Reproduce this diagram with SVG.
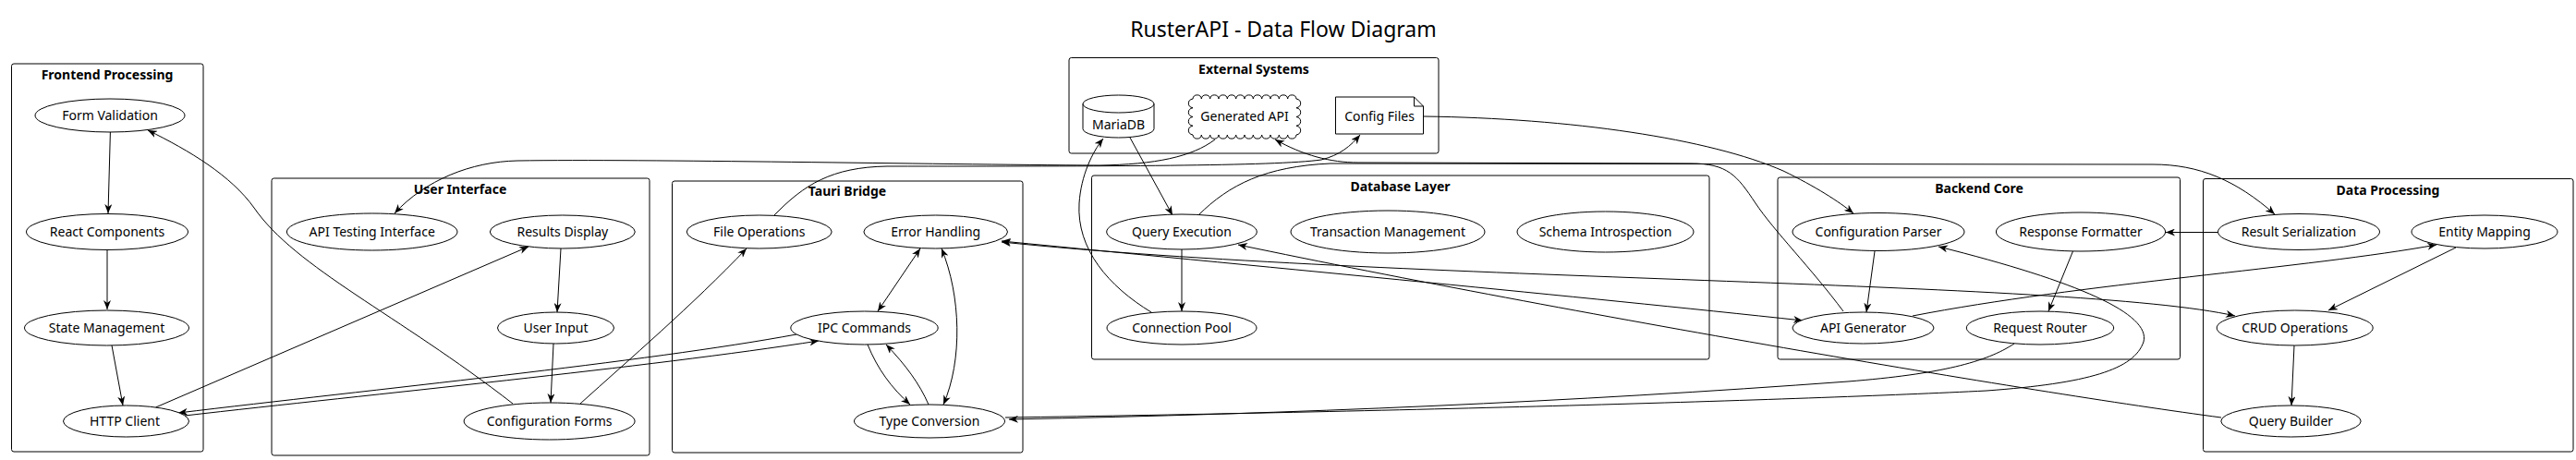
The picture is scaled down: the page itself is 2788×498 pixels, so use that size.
<svg xmlns="http://www.w3.org/2000/svg" width="2788" height="498" viewBox="0 0 2788 498">
<style>
text{font-family:"Noto Sans","DejaVu Sans",sans-serif;fill:#000}
.t{font-size:23px}
.ct{font-size:14px;font-weight:bold;text-anchor:middle}
.nt{font-size:14px;text-anchor:middle}
.cl{fill:none;stroke:#000;stroke-width:1}
.n{fill:#fff;stroke:#000;stroke-width:1}
.e{fill:none;stroke:#000;stroke-width:1;marker-end:url(#ah)}
.b{marker-start:url(#ah)}
.p{fill:none;stroke:#000;stroke-width:1}
</style>
<defs>
<marker id="ah" viewBox="0 0 10 8" refX="10" refY="4" markerWidth="10" markerHeight="8" markerUnits="userSpaceOnUse" orient="auto-start-reverse"><path d="M0,0 L10,4 L0,8 L3,4 Z" fill="#000"/></marker>
</defs>
<rect width="2788" height="498" fill="#fff"/>
<text class="t" x="1389" y="40" text-anchor="middle">RusterAPI - Data Flow Diagram</text>

<g id="cluster-frontend"><rect class="cl" x="12.5" y="69" width="207.5" height="420" rx="2.5"/><text class="ct" x="116" y="86">Frontend Processing</text></g>
<g id="cluster-ui"><rect class="cl" x="294" y="193" width="409" height="300" rx="2.5"/><text class="ct" x="498" y="210">User Interface</text></g>
<g id="cluster-tauri"><rect class="cl" x="727.5" y="196" width="379.5" height="294" rx="2.5"/><text class="ct" x="917" y="212">Tauri Bridge</text></g>
<g id="cluster-external"><rect class="cl" x="1157" y="62.5" width="400" height="103.5" rx="2.5"/><text class="ct" x="1357" y="80">External Systems</text></g>
<g id="cluster-db"><rect class="cl" x="1181.5" y="190" width="668.5" height="199" rx="2.5"/><text class="ct" x="1515.5" y="207">Database Layer</text></g>
<g id="cluster-backend"><rect class="cl" x="1924" y="192" width="435.5" height="197" rx="2.5"/><text class="ct" x="2142" y="209">Backend Core</text></g>
<g id="cluster-data"><rect class="cl" x="2384.5" y="193.5" width="400.5" height="295.5" rx="2.5"/><text class="ct" x="2584.5" y="211">Data Processing</text></g>

<g id="connectors">
<path class="e" d="M119.4,143 L117,231"/>
<path class="e" d="M116,271 L116,335"/>
<path class="e" d="M121,374 L133,439"/>
<path class="e" d="M168.5,441 L572,267"/>
<path class="e" d="M555,437 C430,340 320,290 275,225 C250,190 205,163 160,141"/>
<path class="e" d="M607,269 L603,338"/>
<path class="e" d="M599,372 L596,436"/>
<path class="e" d="M628,437 C680,390 750,330 808,269"/>
<path class="e" d="M862,362 C700,392 400,422 193,447"/>
<path class="e" d="M200,450 C400,427 700,398 886,369"/>
<path class="e b" d="M996,269 L950,337"/>
<path class="e b" d="M1019,269 C1040,320 1042,390 1021,438"/>
<path class="e" d="M939,373 C950,400 965,420 985,438"/>
<path class="e" d="M1005,438 C995,415 980,395 959,373"/>
<path class="e" d="M1223,149 L1269,233"/>
<path class="e" d="M1279,270 L1279,337"/>
<path class="e" d="M1246,338 C1200,310 1165,270 1168,220 C1170,190 1182,165 1194,150"/>
<path class="e" d="M1540.5,126 C1700,128 1850,150 1930,185 C1965,202 1990,218 2006,231"/>
<path class="e" d="M2029,272 L2020,338"/>
<path class="e" d="M2243.5,272 L2217,337"/>
<path class="e" d="M2400,251.5 L2344,251.5"/>
<path class="e" d="M2658,268 L2520,336"/>
<path class="e" d="M2483,374 L2480,439"/>
<path class="e" d="M2070,342 C2250,307 2500,290 2637,265"/>
<path class="e b" d="M1084,261 C1400,292 1700,320 1951,347"/>
<path class="e b" d="M1084,262 C1500,305 2250,303 2419,342"/>
<path class="e" d="M2404,452 C2200,425 1700,340 1340,265"/>
<path class="e" d="M2180,372 C2150,392 2100,405 2000,413 C1700,435 1400,448 1092,454"/>
<path class="e" d="M1088,452 C1500,446 1950,433 2150,423 C2260,415 2310,400 2320,370 C2328,340 2250,305 2098,267"/>
<path class="e" d="M1315,151 C1290,170 1250,178 1190,179 C1000,178 700,172 560,174 C510,175 460,195 427,231"/>
<path class="e" d="M838,233 C870,200 900,181 960,180 C1200,180 1380,180 1430,173 C1450,168 1462,158 1472,146"/>
<path class="e" d="M1995,337 C1960,290 1920,250 1900,220 C1880,190 1870,177 1830,177 L1470,176 C1440,176 1410,168 1380,151"/>
<path class="e" d="M1297,233 C1330,200 1370,180 1440,177 L2330,178 C2380,178 2420,195 2462,232"/>
</g>

<g id="node-form-validation"><ellipse class="n" cx="119" cy="125" rx="81" ry="18"/><text class="nt" x="119" y="130">Form Validation</text></g>
<g id="node-react-components"><ellipse class="n" cx="116" cy="251" rx="87.5" ry="19.5"/><text class="nt" x="116" y="256">React Components</text></g>
<g id="node-state-management"><ellipse class="n" cx="115.5" cy="355" rx="89" ry="19"/><text class="nt" x="115.5" y="360">State Management</text></g>
<g id="node-http-client"><ellipse class="n" cx="136.5" cy="456" rx="68" ry="17"/><text class="nt" x="135" y="461">HTTP Client</text></g>

<g id="node-api-testing"><ellipse class="n" cx="402.7" cy="251" rx="92.3" ry="20"/><text class="nt" x="402.7" y="256">API Testing Interface</text></g>
<g id="node-results-display"><ellipse class="n" cx="608.8" cy="251" rx="78.5" ry="18"/><text class="nt" x="608.8" y="256">Results Display</text></g>
<g id="node-user-input"><ellipse class="n" cx="601.5" cy="355" rx="63" ry="17"/><text class="nt" x="601.5" y="360">User Input</text></g>
<g id="node-config-forms"><ellipse class="n" cx="594.6" cy="456" rx="92.5" ry="20"/><text class="nt" x="594.6" y="461">Configuration Forms</text></g>

<g id="node-file-operations"><ellipse class="n" cx="821.7" cy="251" rx="78.5" ry="18"/><text class="nt" x="821.7" y="256">File Operations</text></g>
<g id="node-error-handling"><ellipse class="n" cx="1012.7" cy="251" rx="77.8" ry="18"/><text class="nt" x="1012.7" y="256">Error Handling</text></g>
<g id="node-ipc-commands"><ellipse class="n" cx="935.5" cy="355" rx="79.7" ry="18"/><text class="nt" x="935.5" y="360">IPC Commands</text></g>
<g id="node-type-conversion"><ellipse class="n" cx="1006" cy="456" rx="81.5" ry="18"/><text class="nt" x="1006" y="461">Type Conversion</text></g>

<g id="node-mariadb"><path class="n" d="M1172,112.5 A38.5,9.5 0 0,1 1249,112.5 L1249,139.5 A38.5,9.5 0 0,1 1172,139.5 Z"/><path class="p" d="M1172,112.5 A38.5,9.5 0 0,0 1249,112.5"/><text class="nt" x="1210.5" y="140">MariaDB</text></g>
<g id="node-generated-api"><path class="n" d="M1291,107 a4.7,4.7 0 0,1 9.333,0 a4.7,4.7 0 0,1 9.333,0 a4.7,4.7 0 0,1 9.333,0 a4.7,4.7 0 0,1 9.333,0 a4.7,4.7 0 0,1 9.333,0 a4.7,4.7 0 0,1 9.333,0 a4.7,4.7 0 0,1 9.333,0 a4.7,4.7 0 0,1 9.333,0 a4.7,4.7 0 0,1 9.333,0 a4.7,4.7 0 0,1 9.333,0 a4.7,4.7 0 0,1 9.333,0 a4.7,4.7 0 0,1 9.333,0 a6,5 0 0,1 0,9.75 a6,5 0 0,1 0,9.75 a6,5 0 0,1 0,9.75 a6,5 0 0,1 0,9.75 a4.7,4.7 0 0,1 -9.333,0 a4.7,4.7 0 0,1 -9.333,0 a4.7,4.7 0 0,1 -9.333,0 a4.7,4.7 0 0,1 -9.333,0 a4.7,4.7 0 0,1 -9.333,0 a4.7,4.7 0 0,1 -9.333,0 a4.7,4.7 0 0,1 -9.333,0 a4.7,4.7 0 0,1 -9.333,0 a4.7,4.7 0 0,1 -9.333,0 a4.7,4.7 0 0,1 -9.333,0 a4.7,4.7 0 0,1 -9.333,0 a4.7,4.7 0 0,1 -9.333,0 a6,5 0 0,1 0,-9.75 a6,5 0 0,1 0,-9.75 a6,5 0 0,1 0,-9.75 a6,5 0 0,1 0,-9.75 Z"/><text class="nt" x="1347" y="131">Generated API</text></g>
<g id="node-config-files"><path class="n" d="M1445.5,105 L1530.5,105 L1540.5,115 L1540.5,145 L1445.5,145 Z"/><path class="p" d="M1530.5,105 L1530.5,115 L1540.5,115"/><text class="nt" x="1493" y="131">Config Files</text></g>

<g id="node-query-execution"><ellipse class="n" cx="1279" cy="251" rx="81.3" ry="19"/><text class="nt" x="1279" y="256">Query Execution</text></g>
<g id="node-connection-pool"><ellipse class="n" cx="1279" cy="355" rx="81" ry="18"/><text class="nt" x="1279" y="360">Connection Pool</text></g>
<g id="node-transaction-management"><ellipse class="n" cx="1502" cy="251" rx="105" ry="23"/><text class="nt" x="1502" y="256">Transaction Management</text></g>
<g id="node-schema-introspection"><ellipse class="n" cx="1737.5" cy="251" rx="95.5" ry="22"/><text class="nt" x="1737.5" y="256">Schema Introspection</text></g>

<g id="node-config-parser"><ellipse class="n" cx="2033" cy="251" rx="93" ry="20.5"/><text class="nt" x="2033" y="256">Configuration Parser</text></g>
<g id="node-api-generator"><ellipse class="n" cx="2016.5" cy="355" rx="76.5" ry="17"/><text class="nt" x="2016.5" y="360">API Generator</text></g>
<g id="node-response-formatter"><ellipse class="n" cx="2252" cy="251" rx="91.6" ry="21"/><text class="nt" x="2252" y="256">Response Formatter</text></g>
<g id="node-request-router"><ellipse class="n" cx="2208" cy="355" rx="79.7" ry="18"/><text class="nt" x="2208" y="360">Request Router</text></g>

<g id="node-result-serialization"><ellipse class="n" cx="2488" cy="251" rx="87.5" ry="19.5"/><text class="nt" x="2488" y="256">Result Serialization</text></g>
<g id="node-entity-mapping"><ellipse class="n" cx="2689" cy="251" rx="79" ry="18"/><text class="nt" x="2689" y="256">Entity Mapping</text></g>
<g id="node-crud-operations"><ellipse class="n" cx="2483.7" cy="355" rx="84.5" ry="19"/><text class="nt" x="2483.7" y="360">CRUD Operations</text></g>
<g id="node-query-builder"><ellipse class="n" cx="2479.5" cy="456" rx="75.7" ry="17"/><text class="nt" x="2479.5" y="461">Query Builder</text></g>
</svg>
